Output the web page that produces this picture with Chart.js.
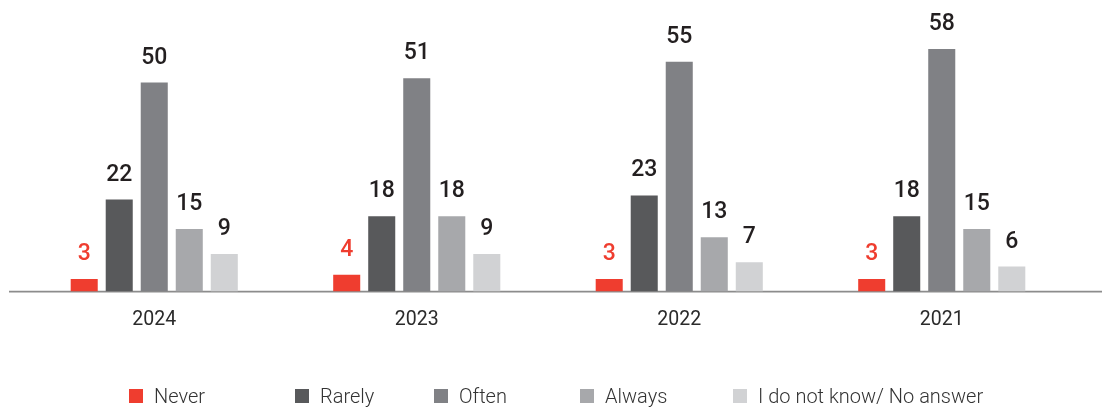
<!DOCTYPE html>
<html>
<head>
<meta charset="utf-8">
<script src="https://cdn.jsdelivr.net/npm/chart.js@4"></script>
<style>
  body { margin: 0; background: #fff; font-family: Roboto, sans-serif; }
  #wrap { position: relative; width: 1102px; height: 409px; }
  #legend { position: absolute; left: 0; top: 386px; width: 1102px; height: 20px; }
  .item { position: absolute; top: 0; height: 20px; display: flex; align-items: center;
          font-size: 20px; font-weight: 300; color: #333; white-space: nowrap; }
  .box { width: 14px; height: 14px; margin-right: 11px; }
</style>
</head>
<body>
<div id="wrap">
  <canvas id="myChart" width="1102" height="409"></canvas>
  <div id="legend"></div>
</div>
<script>
var years = ['2024', '2023', '2022', '2021'];
var never = [3, 4, 3, 3];
var rarely = [22, 18, 23, 18];
var often = [50, 51, 55, 58];
var always = [15, 18, 13, 15];
var noAnswer = [9, 9, 7, 6];

var seriesNames = ['Never', 'Rarely', 'Often', 'Always', 'I do not know/ No answer'];
var seriesColors = ['#ef3d2f', '#58595b', '#808185', '#a7a8ab', '#d1d2d4'];
var legendLeft = [129, 295, 434, 580, 733];

var ctx = document.getElementById('myChart').getContext('2d');

// long grey baseline under the bars, wider than the plot area
var baseline = {
  id: 'baseline',
  beforeDatasetsDraw: function(chart) {
    var y = chart.scales.y.getPixelForValue(0);
    var c = chart.ctx;
    c.save();
    c.strokeStyle = '#8c8c8c';
    c.lineWidth = 1.6;
    c.beginPath();
    c.moveTo(9, y);
    c.lineTo(chart.width, y);
    c.stroke();
    c.restore();
  }
};

// value above each bar
var valueLabels = {
  id: 'valueLabels',
  afterDatasetsDraw: function(chart) {
    var c = chart.ctx;
    c.save();
    c.font = '500 23px Roboto';
    c.textAlign = 'center';
    c.textBaseline = 'alphabetic';
    chart.data.datasets.forEach(function(ds, i) {
      var meta = chart.getDatasetMeta(i);
      c.fillStyle = i === 0 ? ds.backgroundColor : '#231f20';
      meta.data.forEach(function(bar, j) {
        c.fillText(ds.data[j], bar.x, bar.y - 19);
      });
    });
    c.restore();
  }
};

var values = [never, rarely, often, always, noAnswer];

new Chart(ctx, {
  type: 'bar',
  data: {
    labels: years,
    datasets: values.map(function(v, i) {
      return {
        label: seriesNames[i],
        data: v,
        backgroundColor: seriesColors[i],
        categoryPercentage: 0.667,
        barPercentage: 0.772
      };
    })
  },
  options: {
    responsive: false,
    animation: false,
    layout: { padding: { left: 23, right: 29, top: 1, bottom: 60 } },
    plugins: {
      legend: { display: false },
      tooltip: { enabled: false }
    },
    scales: {
      x: {
        grid: { display: false, drawTicks: false },
        border: { display: false },
        ticks: { padding: 17, color: '#2b2b2b', font: { family: 'Roboto', size: 19.5 } }
      },
      y: {
        display: false,
        min: 0,
        max: 69.5
      }
    }
  },
  plugins: [baseline, valueLabels]
});

var legend = document.getElementById('legend');
seriesNames.forEach(function(name, i) {
  var item = document.createElement('div');
  item.className = 'item';
  item.style.left = legendLeft[i] + 'px';
  var box = document.createElement('span');
  box.className = 'box';
  box.style.background = seriesColors[i];
  item.appendChild(box);
  item.appendChild(document.createTextNode(name));
  legend.appendChild(item);
});
</script>
</body>
</html>
